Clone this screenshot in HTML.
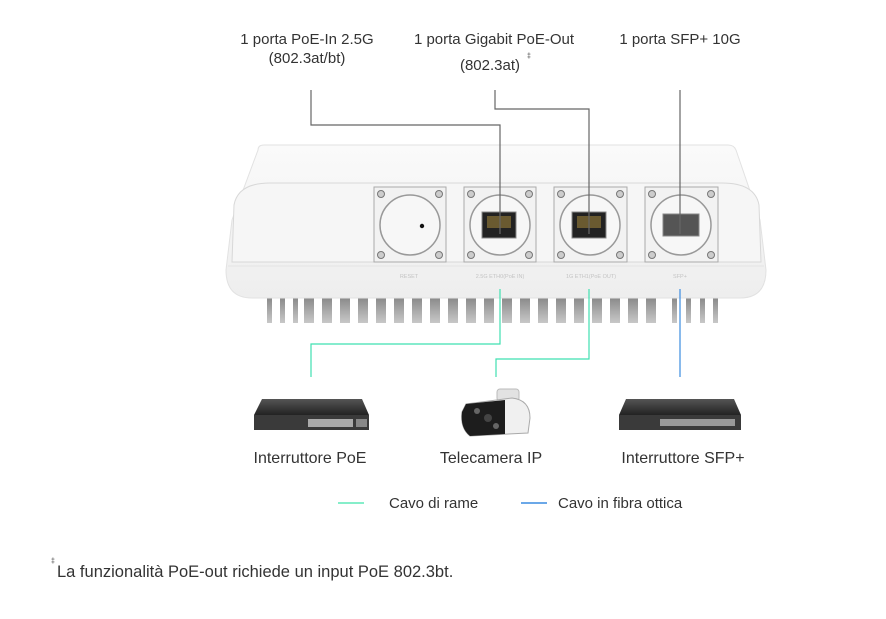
<!DOCTYPE html>
<html><head><meta charset="utf-8"><style>
body{margin:0;background:#fff;}
svg{display:block;font-family:"Liberation Sans",sans-serif;}
</style></head><body>
<svg width="886" height="619" viewBox="0 0 886 619" xmlns="http://www.w3.org/2000/svg">
<defs>
<linearGradient id="body" x1="0" y1="0" x2="0" y2="1"><stop offset="0" stop-color="#fafafa"/><stop offset="1" stop-color="#eeeeee"/></linearGradient>
<linearGradient id="fin" x1="0" y1="0" x2="0" y2="1"><stop offset="0" stop-color="#777"/><stop offset="1" stop-color="#c8c8c8"/></linearGradient>
<linearGradient id="sw" x1="0" y1="0" x2="0" y2="1"><stop offset="0" stop-color="#555"/><stop offset="1" stop-color="#222"/></linearGradient>
</defs>
<g fill="#333" font-size="15" text-anchor="middle">
<text x="307" y="44">1 porta PoE-In 2.5G</text>
<text x="307" y="63">(802.3at/bt)</text>
<text x="494" y="44">1 porta Gigabit PoE-Out</text>
<text x="490" y="70">(802.3at)</text>
<text x="529" y="58" font-size="7">‡</text>
<text x="680" y="44">1 porta SFP+ 10G</text>
</g>
<g fill="url(#fin)">
<rect x="267" y="290" width="5" height="33"/><rect x="280" y="290" width="5" height="33"/><rect x="293" y="290" width="5" height="33"/>
<rect x="304" y="290" width="10" height="33"/><rect x="322" y="290" width="10" height="33"/><rect x="340" y="290" width="10" height="33"/><rect x="358" y="290" width="10" height="33"/><rect x="376" y="290" width="10" height="33"/><rect x="394" y="290" width="10" height="33"/><rect x="412" y="290" width="10" height="33"/><rect x="430" y="290" width="10" height="33"/><rect x="448" y="290" width="10" height="33"/><rect x="466" y="290" width="10" height="33"/><rect x="484" y="290" width="10" height="33"/><rect x="502" y="290" width="10" height="33"/><rect x="520" y="290" width="10" height="33"/><rect x="538" y="290" width="10" height="33"/><rect x="556" y="290" width="10" height="33"/><rect x="574" y="290" width="10" height="33"/><rect x="592" y="290" width="10" height="33"/><rect x="610" y="290" width="10" height="33"/><rect x="628" y="290" width="10" height="33"/><rect x="646" y="290" width="10" height="33"/>
<rect x="672" y="290" width="5" height="33"/><rect x="686" y="290" width="5" height="33"/><rect x="700" y="290" width="5" height="33"/><rect x="713" y="290" width="5" height="33"/>
</g>
<path d="M258 150 Q258 145 264 145 L728 145 Q734 145 736 150 L760 220 L766 270 Q766 298 740 298 L252 298 Q226 298 226 270 L232 220 Z" fill="url(#body)" stroke="#e2e2e2"/>
<path d="M232 262 L234 205 Q238 183 270 183 L722 183 Q755 183 759 205 L761 262 Z" fill="#f6f6f6" stroke="#d8d8d8"/>
<line x1="228" y1="266" x2="764" y2="266" stroke="#e4e4e4"/>
<g stroke="#aaa" fill="#f2f2f2">
<rect x="374" y="187" width="72" height="75"/><rect x="464" y="187" width="72" height="75"/><rect x="554" y="187" width="73" height="75"/><rect x="645" y="187" width="73" height="75"/>
</g>
<g fill="#f7f7f7" stroke="#999" stroke-width="1.5">
<circle cx="410" cy="225" r="30"/><circle cx="500" cy="225" r="30"/><circle cx="590" cy="225" r="30"/><circle cx="681" cy="225" r="30"/>
</g>
<g fill="#ccc" stroke="#777">
<circle cx="381" cy="194" r="3.5"/><circle cx="439" cy="194" r="3.5"/><circle cx="381" cy="255" r="3.5"/><circle cx="439" cy="255" r="3.5"/>
<circle cx="471" cy="194" r="3.5"/><circle cx="529" cy="194" r="3.5"/><circle cx="471" cy="255" r="3.5"/><circle cx="529" cy="255" r="3.5"/>
<circle cx="561" cy="194" r="3.5"/><circle cx="620" cy="194" r="3.5"/><circle cx="561" cy="255" r="3.5"/><circle cx="620" cy="255" r="3.5"/>
<circle cx="652" cy="194" r="3.5"/><circle cx="711" cy="194" r="3.5"/><circle cx="652" cy="255" r="3.5"/><circle cx="711" cy="255" r="3.5"/>
</g>
<circle cx="422" cy="226" r="2.2" fill="#111"/>
<rect x="482" y="212" width="34" height="26" fill="#222" stroke="#888"/><rect x="487" y="216" width="24" height="12" fill="#6a5a30"/>
<rect x="572" y="212" width="34" height="26" fill="#222" stroke="#888"/><rect x="577" y="216" width="24" height="12" fill="#6a5a30"/>
<rect x="663" y="214" width="36" height="22" fill="#555" stroke="#888"/>
<g fill="#c4c4c4" font-size="5.5" text-anchor="middle">
<text x="409" y="278">RESET</text><text x="500" y="278">2.5G ETH0(PoE IN)</text><text x="591" y="278">1G ETH1(PoE OUT)</text><text x="680" y="278">SFP+</text>
</g>
<g fill="none" stroke="#666" stroke-width="1.2">
<polyline points="311,90 311,125 500,125 500,234"/>
<polyline points="495,90 495,109 589,109 589,234"/>
<line x1="680" y1="90" x2="680" y2="234"/>
</g>
<g fill="none" stroke="#3fe0b0" stroke-width="1.2">
<polyline points="500,289 500,344 311,344 311,377"/>
<polyline points="589,289 589,359 496,359 496,377"/>
</g>
<line x1="680" y1="289" x2="680" y2="377" stroke="#3a8be0" stroke-width="1.2"/>
<path d="M262 399 L362 399 L369 415 L254 415 Z" fill="url(#sw)"/>
<rect x="254" y="415" width="115" height="15" fill="#3a3a3a"/>
<rect x="308" y="419" width="45" height="8" fill="#aaa"/><rect x="356" y="419" width="11" height="8" fill="#888"/>
<rect x="497" y="389" width="22" height="12" rx="3" fill="#e2e2e2" stroke="#bbb"/>
<path d="M466 404 L512 398 Q530 400 530 418 L528 433 L470 436 Q460 428 462 412 Z" fill="#f0f0f0" stroke="#aaa"/>
<path d="M466 404 L505 400 L505 434 L470 436 Q460 428 462 412 Z" fill="#1d1d1d"/>
<circle cx="477" cy="411" r="3" fill="#666"/><circle cx="488" cy="418" r="4" fill="#444"/><circle cx="496" cy="426" r="3" fill="#666"/>
<path d="M626 399 L734 399 L741 415 L619 415 Z" fill="url(#sw)"/>
<rect x="619" y="415" width="122" height="15" fill="#3a3a3a"/>
<rect x="660" y="419" width="75" height="7" fill="#999"/>
<g fill="#333" font-size="16" text-anchor="middle">
<text x="310" y="463">Interruttore PoE</text>
<text x="491" y="463">Telecamera IP</text>
<text x="683" y="463">Interruttore SFP+</text>
</g>
<line x1="338" y1="503" x2="364" y2="503" stroke="#5fe8b8" stroke-width="1.5"/>
<text x="389" y="508" font-size="15" fill="#333">Cavo di rame</text>
<line x1="521" y1="503" x2="547" y2="503" stroke="#3a8be0" stroke-width="1.5"/>
<text x="558" y="508" font-size="15" fill="#333">Cavo in fibra ottica</text>
<text x="51" y="563" font-size="7" fill="#333">‡</text>
<text x="57" y="577" font-size="16.5" fill="#333">La funzionalità PoE-out richiede un input PoE 802.3bt.</text>
</svg>
</body></html>
